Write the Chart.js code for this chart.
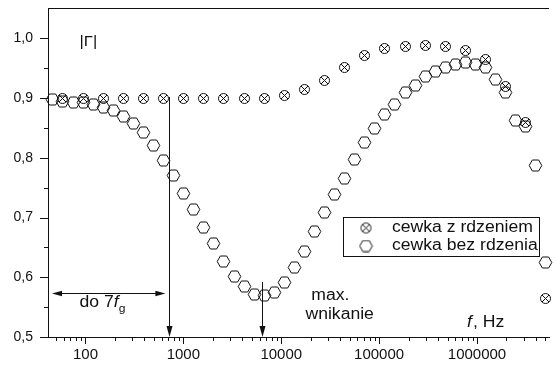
<!DOCTYPE html>
<html><head><meta charset="utf-8">
<script src="https://cdn.jsdelivr.net/npm/chart.js@4/dist/chart.umd.min.js"></script>
<style>html,body{margin:0;padding:0;background:#fff;overflow:hidden}#wrap{width:556px;height:365px;position:relative}</style>
</head><body><div id="wrap"><canvas id="c" width="556" height="365"></canvas></div>
<script>
// ---- data ----
const freqHex = [46.5, 58.9, 74.6, 94.6, 119.8, 151.9, 192.4, 243.8, 308.9, 391.3,
  495.7, 628.1, 795.7, 1008, 1277, 1618, 2050, 2597, 3291, 4170,
  5284, 6694, 8480, 10745, 13614, 17250, 21850, 27690, 35085, 44445,
  56315, 71350, 90390, 114530, 145110, 183860, 232930, 295120, 373930, 473720,
  600220, 760500, 963400, 1220700, 1546600, 1959600, 2482600, 3145500, 3985300, 5048000];
const gammaHex = [0.897, 0.895, 0.893, 0.892, 0.889, 0.884, 0.879, 0.869, 0.857, 0.842,
  0.820, 0.796, 0.771, 0.741, 0.714, 0.684, 0.656, 0.627, 0.602, 0.584,
  0.572, 0.570, 0.575, 0.592, 0.616, 0.644, 0.676, 0.708, 0.738, 0.766,
  0.798, 0.825, 0.850, 0.872, 0.890, 0.909, 0.922, 0.936, 0.944, 0.952,
  0.957, 0.959, 0.957, 0.952, 0.932, 0.909, 0.862, 0.853, 0.788, 0.624];
const freqCross = [58.9, 94.6, 151.9, 243.8, 391.3, 628.1, 1008, 1618, 2597, 4170,
  6694, 10745, 17250, 27690, 44445, 71350, 114530, 183860, 295120, 473720,
  760500, 1220700, 1959600, 3145500, 5048000];
const gammaCross = [0.899, 0.899, 0.899, 0.899, 0.899, 0.899, 0.899, 0.899, 0.899, 0.899,
  0.900, 0.904, 0.914, 0.929, 0.952, 0.971, 0.984, 0.987, 0.989, 0.986,
  0.979, 0.964, 0.919, 0.860, 0.564];
const seriesNames = ['cewka z rdzeniem', 'cewka bez rdzenia'];
const xTicks = [100, 1000, 10000, 100000, 1000000];
const yTicks = [0.5, 0.6, 0.7, 0.8, 0.9, 1.0];
const yMinor = [0.55, 0.65, 0.75, 0.85, 0.95];

const FONT = "'Liberation Sans', Arial, sans-serif";
const INK = '#111';
const SX = 1.1; // horizontal stretch of the reference's text

function makeHex() {
  const c = document.createElement('canvas'); c.width = 15; c.height = 13;
  const g = c.getContext('2d'); g.strokeStyle = INK; g.lineWidth = 1;
  const cx = 7.5, cy = 6.5, r = 6.3, h = 5;
  g.beginPath(); g.moveTo(cx - r, cy); g.lineTo(cx - r / 2, cy - h - 0.5); g.lineTo(cx + r / 2, cy - h - 0.5);
  g.lineTo(cx + r, cy); g.lineTo(cx + r / 2, cy + h + 0.5); g.lineTo(cx - r / 2, cy + h + 0.5); g.closePath(); g.stroke();
  return c;
}
function makeCross() {
  const c = document.createElement('canvas'); c.width = 13; c.height = 13;
  const g = c.getContext('2d'); g.strokeStyle = INK; g.lineWidth = 1;
  const cx = 6.5, cy = 6.5, r = 5, d = 3.5;
  g.beginPath(); g.arc(cx, cy, r, 0, Math.PI * 2); g.stroke();
  g.beginPath(); g.moveTo(cx - d, cy - d); g.lineTo(cx + d, cy + d); g.moveTo(cx + d, cy - d); g.lineTo(cx - d, cy + d); g.stroke();
  return c;
}
const hexImg = makeHex();
const crossImg = makeCross();

function arrowHead(g, x, y, dx, dy, len, hw) {
  const bx = x - dx * len, by = y - dy * len;
  g.beginPath(); g.moveTo(x, y); g.lineTo(bx - dy * hw, by + dx * hw); g.lineTo(bx + dy * hw, by - dx * hw); g.closePath(); g.fill();
}
function hText(g, s, x, y) {
  g.save(); g.translate(x, y); g.scale(SX, 1); g.fillText(s, 0, 0); const w = g.measureText(s).width; g.restore();
  return w * SX;
}

const crisp = {
  id: 'crisp',
  beforeDatasetsDraw(chart) { chart.ctx.save(); chart.ctx.imageSmoothingEnabled = false; },
  afterDatasetsDraw(chart) { chart.ctx.restore(); }
};

const decor = {
  id: 'decor',
  afterDraw(chart) {
    const g = chart.ctx, xs = chart.scales.x, ys = chart.scales.y, a = chart.chartArea;
    const px = v => xs.getPixelForValue(v), py = v => ys.getPixelForValue(v);
    g.save();
    g.strokeStyle = '#111'; g.fillStyle = '#111'; g.lineWidth = 1;
    g.beginPath(); g.moveTo(a.left, Math.round(a.top) + 0.5); g.lineTo(a.right, Math.round(a.top) + 0.5); g.stroke();
    g.beginPath();
    yTicks.forEach(v => { const y = Math.round(py(v)) + 0.5; g.moveTo(a.left - 8, y); g.lineTo(a.left, y); });
    yMinor.forEach(v => { const y = Math.round(py(v)) + 0.5; g.moveTo(a.left - 4, y); g.lineTo(a.left, y); });
    const xb = Math.round(a.bottom);
    for (let e = 1; e <= 6; e++) {
      for (let m = 1; m <= 9; m++) {
        const f = m * Math.pow(10, e);
        if (f < xs.min || f > xs.max) continue;
        const x = Math.round(px(f)) + 0.5;
        g.moveTo(x, xb); g.lineTo(x, xb + (m === 1 ? 7 : 4));
      }
    }
    g.stroke();

    g.strokeStyle = INK; g.fillStyle = INK;
    let x1 = Math.round(px(718)) + 0.5;
    g.beginPath(); g.moveTo(x1, py(0.902)); g.lineTo(x1, a.bottom - 6); g.stroke();
    arrowHead(g, x1, a.bottom, 0, 1, 11, 3);
    let x2 = Math.round(px(6360)) + 0.5;
    g.beginPath(); g.moveTo(x2, py(0.592)); g.lineTo(x2, a.bottom - 6); g.stroke();
    arrowHead(g, x2, a.bottom, 0, 1, 11, 3);
    const hy = Math.round(py(0.574)) + 0.5, hx1 = px(45.5), hx2 = px(655);
    g.beginPath(); g.moveTo(hx1 + 6, hy); g.lineTo(hx2 - 6, hy); g.stroke();
    arrowHead(g, hx1, hy, -1, 0, 10, 2.7);
    arrowHead(g, hx2, hy, 1, 0, 10, 2.7);

    g.fillStyle = '#111'; g.textBaseline = 'middle'; g.textAlign = 'left';
    g.font = '15px ' + FONT;
    hText(g, '|Γ|', px(87), py(0.994));
    g.font = '16px ' + FONT;
    let tx = px(87), ty = py(0.557);
    tx += hText(g, 'do 7', tx, ty);
    g.font = 'italic 16px ' + FONT; tx += hText(g, 'f', tx, ty);
    g.font = '11px ' + FONT; hText(g, 'g', tx, ty + 6);
    g.font = '16px ' + FONT;
    hText(g, 'max.', px(20280), py(0.5687));
    hText(g, 'wnikanie', px(17660), py(0.537));
    tx = px(792000); ty = py(0.5235);
    g.font = 'italic 16px ' + FONT; tx += hText(g, 'f', tx, ty);
    g.font = '16px ' + FONT; hText(g, ', Hz', tx + 1, ty);

    const lx = 343.5, ly = 217.5, lw = 196, lh = 39;
    g.fillStyle = '#fff'; g.fillRect(lx, ly, lw, lh);
    g.strokeStyle = '#111'; g.strokeRect(lx, ly, lw, lh);
    g.drawImage(crossImg, 366 - crossImg.width / 2, 228 - crossImg.height / 2);
    g.drawImage(hexImg, 366 - hexImg.width / 2, 246 - hexImg.height / 2);
    g.fillStyle = '#111'; g.font = '16px ' + FONT; g.textBaseline = 'middle';
    hText(g, seriesNames[0], 392, 228);
    hText(g, seriesNames[1], 392, 246);
    g.restore();
  }
};

new Chart(document.getElementById('c'), {
  type: 'scatter',
  data: {
    datasets: [
      { label: seriesNames[1], data: freqHex.map((f, i) => ({ x: f, y: gammaHex[i] })),
        pointStyle: hexImg, pointRadius: 6, clip: false, showLine: false },
      { label: seriesNames[0], data: freqCross.map((f, i) => ({ x: f, y: gammaCross[i] })),
        pointStyle: crossImg, pointRadius: 6, clip: false, showLine: false }
    ]
  },
  options: {
    responsive: false, animation: false, devicePixelRatio: 1,
    layout: { padding: { top: 8, right: 0, left: 0, bottom: 0 } },
    plugins: { legend: { display: false }, tooltip: { enabled: false } },
    scales: {
      x: {
        type: 'logarithmic', min: 41.4, max: 5.44e6,
        grid: { display: false, drawTicks: false },
        border: { display: true, color: '#111', width: 1 },
        afterBuildTicks: s => { s.ticks = xTicks.map(v => ({ value: v })); },
        afterFit: s => { s.height = 28; s.paddingLeft = 0; s.paddingRight = 0; },
        ticks: { padding: 9, color: '#111', font: { family: FONT, size: 15 }, maxRotation: 0, autoSkip: false,
          callback: v => String(v) }
      },
      y: {
        min: 0.5, max: 1.051,
        grid: { display: false, drawTicks: false },
        border: { display: true, color: '#111', width: 1 },
        afterBuildTicks: s => { s.ticks = yTicks.map(v => ({ value: v })); },
        afterFit: s => { s.width = 48; s.paddingTop = 0; s.paddingBottom = 0; },
        ticks: { padding: 15, color: '#111', font: { family: FONT, size: 14 },
          callback: v => Number(v).toFixed(1).replace('.', ',') }
      }
    }
  },
  plugins: [crisp, decor]
});
</script>
</body></html>
